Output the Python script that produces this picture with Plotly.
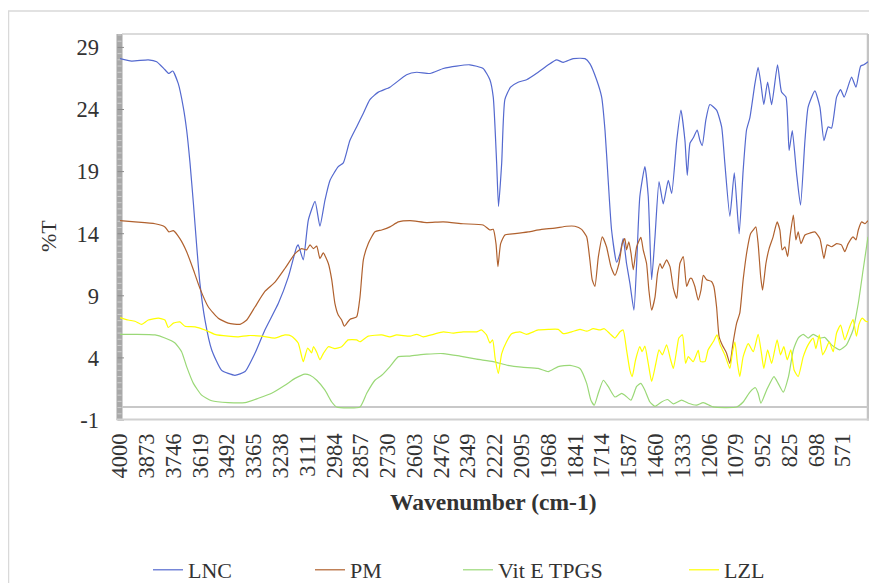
import numpy as np
import plotly.graph_objects as go

# ---------------- data ----------------
lnc_wn = [4000, 3945, 3866, 3826, 3787, 3768, 3750, 3724, 3700, 3684, 3668, 3652, 3636, 3621, 3597,
          3565, 3518, 3455, 3407, 3360, 3313, 3249, 3202, 3162, 3155, 3131, 3107, 3075, 3052, 3028,
          3004, 2965, 2941, 2910, 2878, 2846, 2815, 2775, 2720, 2641, 2593, 2530, 2467, 2404, 2341,
          2278, 2246, 2230, 2214, 2205, 2190, 2175, 2148, 2112, 2072, 2017, 1969, 1930, 1898, 1851,
          1795, 1772, 1740, 1716, 1700, 1685, 1669, 1645, 1629, 1614, 1598, 1582, 1563, 1550, 1535,
          1511, 1495, 1479, 1463, 1444, 1424, 1400, 1384, 1360, 1340, 1321, 1310, 1297, 1282, 1263,
          1250, 1239, 1222, 1203, 1171, 1147, 1132, 1108, 1087, 1064, 1045, 1029, 1013, 989, 974,
          961, 947, 929, 910, 882, 863, 842, 827, 812, 792, 773, 752, 737, 705, 681, 662, 642, 626,
          602, 583, 566, 531, 510, 488, 473, 453]
lnc_t = [28.1, 27.9, 28.0, 27.85, 27.2, 26.9, 27.1, 26.1, 24.2, 22.35, 19.7, 16.45, 12.95, 10.0, 7.05,
         4.64, 3.0, 2.6, 2.9, 4.37, 6.25, 8.4, 10.5, 12.95, 13.1, 11.9, 15.1, 16.6, 14.6, 16.7,
         18.3, 19.4, 19.7, 21.5, 22.6, 23.7, 24.8, 25.4, 25.8, 26.8, 27.0, 26.9, 27.3, 27.5, 27.6,
         27.3, 26.4, 25.0, 19.7, 16.2, 19.7, 24.8, 25.8, 26.2, 26.4, 27.0, 27.6, 28.0, 27.8, 28.1,
         28.1, 27.7, 26.4, 25.0, 22.3, 18.3, 14.3, 11.7, 12.4, 13.6, 11.6, 10.0, 7.85, 11.6, 17.0,
         19.4, 17.0, 10.3, 13.75, 18.2, 16.4, 18.3, 17.25, 21.5, 23.95, 21.5, 18.7, 21.3, 21.7, 22.35,
         21.5, 21.1, 23.15, 24.4, 23.95, 22.6, 19.7, 15.4, 18.9, 14.0, 19.1, 22.35, 23.35, 26.1, 27.4,
         26.1, 24.4, 26.2, 24.4, 27.6, 25.4, 25.0, 20.7, 22.3, 18.9, 16.3, 21.5, 24.2, 25.5, 24.2, 21.5, 22.6, 22.5,
         25.0, 25.6, 25.0, 26.6, 25.8, 27.5, 27.6, 27.85]

pm_wn = [4000, 3929, 3834, 3787, 3768, 3747, 3716, 3684, 3652, 3621, 3581, 3534, 3487, 3431, 3399,
         3360, 3313, 3265, 3218, 3170, 3139, 3115, 3099, 3083, 3067, 3052, 3036, 3012, 2996, 2981,
         2965, 2949, 2936, 2910, 2878, 2862, 2846, 2823, 2791, 2759, 2720, 2680, 2625, 2546, 2467,
         2373, 2278, 2246, 2230, 2217, 2208, 2195, 2175, 2127, 2064, 2001, 1938, 1882, 1843, 1811,
         1787, 1772, 1761, 1748, 1732, 1713, 1693, 1672, 1653, 1634, 1618, 1606, 1598, 1587, 1577,
         1566, 1550, 1530, 1519, 1503, 1492, 1479, 1463, 1451, 1439, 1429, 1408, 1392, 1376, 1360,
         1345, 1329, 1313, 1297, 1289, 1274, 1258, 1245, 1234, 1218, 1195, 1184, 1171, 1159, 1143,
         1124, 1108, 1093, 1076, 1061, 1045, 1026, 1010, 997, 985, 974, 962, 953, 937, 922, 903,
         884, 871, 860, 847, 834, 823, 807, 795, 784, 771, 752, 729, 705, 681, 662, 647, 626, 602,
         579, 563, 547, 524, 510, 499, 483, 468, 453]
pm_t = [15.05, 14.95, 14.8, 14.55, 14.15, 14.25, 13.6, 12.55, 11.1, 9.6, 8.1, 7.2, 6.8, 6.7, 7.05,
        8.1, 9.35, 10.1, 11.2, 12.4, 12.8, 12.7, 13.1, 12.8, 13.0, 12.0, 12.45, 11.6, 10.3, 8.4,
        7.45, 7.05, 6.55, 7.1, 7.3, 8.9, 11.9, 13.2, 14.15, 14.3, 14.55, 14.95, 15.05, 14.9, 14.95,
        14.8, 14.7, 14.3, 14.35, 13.2, 11.35, 13.2, 13.9, 14.0, 14.15, 14.35, 14.45, 14.6, 14.6, 14.35,
        13.75, 11.9, 10.3, 9.75, 12.1, 13.75, 12.95, 11.35, 10.65, 11.6, 13.2, 13.6, 12.7, 13.35, 12.45,
        11.1, 12.95, 13.7, 12.7, 11.6, 9.45, 7.85, 8.9, 10.8, 11.6, 11.2, 11.9, 11.35, 9.6, 8.8,
        11.6, 12.15, 9.75, 10.4, 10.4, 9.75, 8.65, 9.45, 10.65, 10.3, 10.15, 9.75, 8.1, 5.7, 5.0,
        4.4, 3.55, 5.2, 6.8, 7.6, 10.3, 12.7, 14.0, 14.3, 14.55, 13.2, 10.55, 9.45, 11.6, 12.8, 13.75,
        14.95, 14.3, 12.7, 12.95, 12.15, 13.75, 15.5, 13.5, 14.15, 13.2, 13.9, 14.05, 14.15, 13.6, 12.0, 13.1, 12.95, 13.2,
        13.1, 12.55, 13.2, 13.75, 13.5, 14.3, 14.95, 14.8, 15.05]

vit_wn = [4000, 3929, 3834, 3787, 3739, 3708, 3684, 3652, 3613, 3565, 3487, 3407, 3344, 3281, 3218,
          3170, 3123, 3099, 3067, 3028, 2996, 2973, 2862, 2830, 2791, 2759, 2720, 2680, 2625, 2546,
          2467, 2388, 2309, 2230, 2160, 2096, 2017, 1969, 1922, 1866, 1819, 1787, 1767, 1751, 1732,
          1708, 1685, 1653, 1621, 1606, 1577, 1550, 1530, 1511, 1487, 1463, 1432, 1404, 1376, 1337,
          1305, 1266, 1234, 1187, 1076, 1045, 1013, 987, 974, 961, 934, 899, 879, 855, 830,
          807, 784, 760, 737, 713, 681, 658, 626, 587, 555, 524, 499, 476, 453]
vit_t = [5.9, 5.9, 5.85, 5.6, 5.2, 4.5, 3.3, 1.95, 1.0, 0.55, 0.4, 0.4, 0.75, 1.15, 1.8,
         2.35, 2.7, 2.6, 2.2, 1.4, 0.45, 0.05, 0.05, 1.15, 2.2, 2.6, 3.3, 4.1, 4.15, 4.3,
         4.35, 4.15, 3.9, 3.7, 3.4, 3.25, 3.15, 2.9, 3.3, 3.4, 3.15, 1.95, 0.6, 0.2, 1.15,
         2.2, 1.7, 0.85, 1.15, 1.0, 0.6, 1.7, 1.95, 1.4, 0.45, 0.1, 0.45, 0.65, 0.3, 0.6,
         0.35, 0.2, 0.4, 0.05, 0.05, 0.45, 1.25, 1.6, 1.15, 0.35, 1.4, 2.5, 1.95, 1.25, 2.5,
         4.65, 5.6, 5.9, 5.6, 5.9, 5.6, 5.65, 5.05, 4.65, 5.05, 6.25, 8.4, 11.1, 13.75]

lzl_wn = [4000, 3961, 3929, 3897, 3866, 3818, 3787, 3771, 3747, 3716, 3692, 3644, 3597, 3550, 3487,
          3439, 3392, 3328, 3265, 3218, 3186, 3155, 3131, 3110, 3091, 3083, 3067, 3052, 3036, 3012,
          2981, 2949, 2918, 2878, 2862, 2823, 2759, 2720, 2688, 2625, 2593, 2562, 2514, 2467, 2420,
          2373, 2309, 2286, 2262, 2246, 2233, 2221, 2206, 2190, 2167, 2143, 2104, 2072, 2017, 1969,
          1922, 1898, 1858, 1819, 1787, 1756, 1724, 1704, 1677, 1653, 1629, 1614, 1598, 1582, 1571,
          1555, 1535, 1524, 1511, 1495, 1479, 1459, 1444, 1428, 1408, 1389, 1376, 1360, 1350, 1333,
          1318, 1305, 1282, 1258, 1247, 1226, 1211, 1187, 1169, 1154, 1132, 1108, 1095, 1084, 1072,
          1061, 1045, 1021, 997, 974, 958, 947, 929, 910, 884, 868, 852, 836, 819, 803,
          784, 760, 737, 713, 700, 684, 668, 654, 637, 618, 602, 583, 563, 542, 524,
          508, 496, 480, 464, 453]
lzl_t = [7.25, 7.05, 6.95, 6.7, 7.05, 7.2, 7.05, 6.45, 6.8, 6.9, 6.55, 6.5, 6.25, 5.9, 5.75,
         5.7, 5.8, 5.75, 5.6, 5.85, 5.75, 5.2, 3.7, 4.8, 4.4, 4.9, 4.45, 3.85, 4.35, 4.9,
         4.75, 4.9, 5.45, 5.45, 5.3, 5.75, 5.85, 5.7, 5.85, 5.75, 5.9, 5.7, 5.9, 6.1, 6.0,
         6.1, 6.1, 6.25, 5.85, 5.2, 5.45, 3.95, 2.75, 4.35, 5.3, 5.95, 6.1, 5.9, 6.25, 6.3,
         6.3, 5.95, 6.1, 6.3, 6.15, 6.35, 6.25, 6.35, 5.95, 5.6, 6.1, 6.25, 4.65, 3.0, 2.5,
         3.85, 4.9, 4.5, 4.95, 3.55, 2.1, 3.55, 4.65, 4.25, 5.05, 3.85, 3.15, 4.65, 5.6, 5.85,
         3.55, 4.1, 3.7, 4.6, 3.7, 3.7, 4.65, 5.3, 5.85, 5.05, 4.25, 3.15, 4.5, 5.3, 3.55,
         2.5, 4.1, 5.15, 4.5, 5.9, 4.35, 3.15, 4.65, 3.55, 5.45, 4.25, 4.9, 3.85, 4.65, 3.0,
         2.5, 4.1, 5.05, 5.6, 4.75, 5.85, 4.25, 4.65, 5.3, 4.5, 6.0, 6.65, 5.45, 6.4, 7.1,
         5.75, 6.7, 7.2, 6.95, 6.9]

series_names = ["LNC", "PM", "Vit E TPGS", "LZL"]
series_colors = ["#5469cf", "#b0612e", "#9ad877", "#ffff00"]

x_tick_values = [4000, 3873, 3746, 3619, 3492, 3365, 3238, 3111, 2984, 2857, 2730, 2603, 2476, 2349,
                 2222, 2095, 1968, 1841, 1714, 1587, 1460, 1333, 1206, 1079, 952, 825, 698, 571]
x_tick_labels = [str(v) for v in x_tick_values]
y_tick_values = [-1, 4, 9, 14, 19, 24, 29]
y_tick_labels = [str(v) for v in y_tick_values]

# ---------------- layout geometry (screen pixels; page body adds an 8px offset) ----------------
OFF = 8
SCREEN_W, SCREEN_H = 877, 583
W, H = SCREEN_W - OFF, SCREEN_H - OFF
L, R, T, B = 120, 868, 34, 420
X_RANGE = [4000, 453]
Y_RANGE = [-1, 30.08]
FONT = "Times New Roman, Liberation Serif, serif"
TXT = "#333333"


def fx(px):
    return (px - L) / (R - L)


def fy(py):
    return (B - py) / (B - T)


def vy(v):
    return (v - Y_RANGE[0]) / (Y_RANGE[1] - Y_RANGE[0])


fig = go.Figure()
data = [(lnc_wn, lnc_t), (pm_wn, pm_t), (vit_wn, vit_t), (lzl_wn, lzl_t)]
legend_ids = ["legend", "legend2", "legend3", "legend4"]
for (wn, t), name, col, lg in zip(data, series_names, series_colors, legend_ids):
    fig.add_trace(go.Scatter(x=wn, y=t, mode="lines", name=name,
                             line=dict(color=col, width=1.2, shape="spline", smoothing=0.5),
                             legend=lg, cliponaxis=True))

shapes = []
# outer chart border
shapes.append(dict(type="rect", xref="paper", yref="paper", x0=fx(8.5), x1=fx(890), y0=fy(11), y1=fy(600),
                   line=dict(color="#d9d9d9", width=1.5), fillcolor="rgba(0,0,0,0)", layer="below"))
# left wall band
shapes.append(dict(type="rect", xref="paper", yref="paper", x0=fx(116.5), x1=fx(122.5), y0=fy(420), y1=fy(34),
                   line=dict(width=0), fillcolor="#a8a8a8", layer="below"))
for v in np.arange(-1, 30.01, 0.5):
    major = abs((v + 1) % 5) < 1e-9
    shapes.append(dict(type="line", xref="paper", yref="paper",
                       x0=fx(117.5), x1=fx(124 if major else 121.5), y0=vy(v), y1=vy(v),
                       line=dict(color="#8c8c8c" if major else "#cfcfcf", width=1), layer="below"))
# plot top and right edges
shapes.append(dict(type="line", xref="paper", yref="paper", x0=fx(122), x1=fx(868), y0=fy(34), y1=fy(34),
                   line=dict(color="#cfcfcf", width=1.5), layer="below"))
shapes.append(dict(type="line", xref="paper", yref="paper", x0=fx(868), x1=fx(868), y0=fy(34), y1=fy(420.5),
                   line=dict(color="#c4c4c4", width=2.5), layer="below"))
# floor lines
shapes.append(dict(type="line", xref="paper", yref="paper", x0=fx(122), x1=fx(868), y0=vy(0.05), y1=vy(0.05),
                   line=dict(color="#c8c8c8", width=2), layer="below"))
shapes.append(dict(type="line", xref="paper", yref="paper", x0=fx(116.5), x1=fx(869), y0=fy(419.5), y1=fy(419.5),
                   line=dict(color="#d0d0d0", width=2), layer="below"))

annotations = [
    dict(text="<b>Wavenumber (cm-1)</b>", xref="paper", yref="paper", x=fx(493), y=fy(502),
         xanchor="center", yanchor="middle", showarrow=False, font=dict(family=FONT, size=23.5, color=TXT)),
    dict(text="%T", xref="paper", yref="paper", x=fx(48), y=fy(236), textangle=-90,
         xanchor="center", yanchor="middle", showarrow=False, font=dict(family=FONT, size=22, color=TXT)),
]

legend_x = [148, 310, 458, 684]
leg_common = dict(orientation="h", xanchor="left", yanchor="middle", bgcolor="rgba(0,0,0,0)",
                  font=dict(family=FONT, size=22, color=TXT), borderwidth=0, itemwidth=30)
legends = {}
for lg, lx in zip(legend_ids, legend_x):
    legends[lg] = dict(leg_common, x=fx(lx), y=fy(570))

fig.update_layout(
    width=W, height=H,
    margin=dict(l=L - OFF, r=SCREEN_W - R, t=T - OFF, b=SCREEN_H - B, pad=0, autoexpand=False),
    paper_bgcolor="white", plot_bgcolor="rgba(0,0,0,0)",
    showlegend=True,
    shapes=shapes, annotations=annotations,
    font=dict(family=FONT, color=TXT),
    **legends,
)
fig.update_xaxes(range=X_RANGE, tickmode="array", tickvals=x_tick_values, ticktext=x_tick_labels,
                 tickangle=-90, showgrid=False, zeroline=False, showline=False, ticks="",
                 ticklabelstandoff=8, automargin=False, tickfont=dict(family=FONT, size=22.5, color=TXT))
fig.update_yaxes(range=Y_RANGE, tickmode="array", tickvals=y_tick_values, ticktext=y_tick_labels,
                 showgrid=False, zeroline=False, showline=False, ticks="", ticklabelstandoff=20,
                 automargin=False, tickfont=dict(family=FONT, size=22.5, color=TXT))

fig.write_html("out.html")
